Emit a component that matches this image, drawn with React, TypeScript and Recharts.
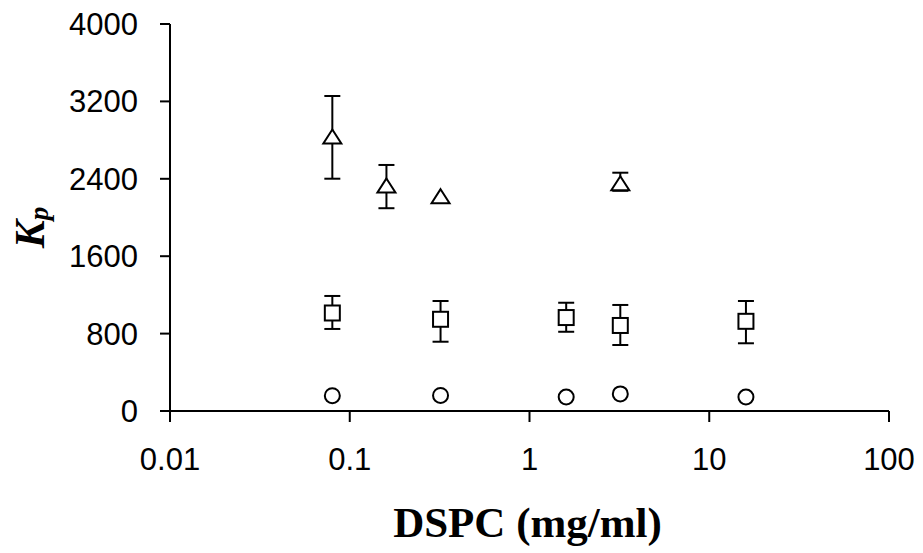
import {
  ScatterChart,
  Scatter,
  XAxis,
  YAxis,
  ErrorBar
} from "recharts";

// DSPC concentration (mg/ml) for each series
const triX = [0.08, 0.16, 0.32, 3.2];
const triY = [2832, 2326, 2215, 2348];
const triErr = [[431, 424], [230, 217], null, [72, 115]];

const sqX = [0.08, 0.32, 1.6, 3.2, 16];
const sqY = [1013, 948, 966, 884, 927];
const sqErr = [[165, 176], [232, 189], [147, 153], [202, 212], [227, 210]];

const circX = [0.08, 0.32, 1.6, 3.2, 16];
const circY = [158, 161, 145, 177, 145];

const xTicks = [0.01, 0.1, 1, 10, 100];
const yTicks = [0, 800, 1600, 2400, 3200, 4000];

const toRows = (xs: number[], ys: number[], errs?: (number[] | null)[]) =>
  xs.map((x, i) => ({ x, y: ys[i], err: errs ? errs[i] : null }));

const triData = toRows(triX, triY, triErr);
const sqData = toRows(sqX, sqY, sqErr);
const circData = toRows(circX, circY);

const tickFont = { fontFamily: "'Liberation Sans', Arial, sans-serif", fontSize: 31, fill: "#000" };

const Triangle = (p: any) => (
  <path
    d={`M${p.cx},${p.cy - 7.5} L${p.cx + 9},${p.cy + 6.5} L${p.cx - 9},${p.cy + 6.5} Z`}
    fill="#fff"
    stroke="#000"
    strokeWidth={2}
  />
);

const Square = (p: any) => (
  <rect x={p.cx - 7.5} y={p.cy - 7.5} width={15} height={15} fill="#fff" stroke="#000" strokeWidth={2} />
);

const Circle = (p: any) => (
  <circle cx={p.cx} cy={p.cy} r={7.5} fill="#fff" stroke="#000" strokeWidth={2} />
);

const KpLabel = (props: any) => {
  const vb = props.viewBox || { y: 24, height: 387 };
  const cx = 44;
  const cy = vb.y + vb.height / 2 + 10;
  return (
    <text
      transform={`rotate(-90 ${cx} ${cy})`}
      x={cx}
      y={cy}
      textAnchor="middle"
      fontFamily="'Liberation Serif', 'Times New Roman', serif"
      fontWeight="bold"
      fontStyle="italic"
      fill="#000"
    >
      <tspan fontSize={42}>K</tspan>
      <tspan fontSize={27} dy={4}>p</tspan>
    </text>
  );
};

function App() {
  return (
    <div style={{ position: "absolute", left: 0, top: 0, background: "#fff" }}>
      <ScatterChart width={923} height={553} margin={{ top: 24, right: 34, bottom: 0, left: 0 }}>
        <XAxis
          type="number"
          dataKey="x"
          scale="log"
          domain={[0.01, 100]}
          ticks={xTicks}
          allowDataOverflow
          tickFormatter={(v: number) => String(v)}
          height={142}
          tickSize={11}
          tickMargin={26}
          axisLine={{ stroke: "#000", strokeWidth: 2 }}
          tickLine={{ stroke: "#000", strokeWidth: 2 }}
          tick={tickFont}
          label={{
            value: "DSPC (mg/ml)",
            position: "insideBottom",
            offset: 16,
            dx: -2,
            style: {
              fontFamily: "'Liberation Serif', 'Times New Roman', serif",
              fontWeight: "bold",
              fontSize: 43,
              fill: "#000"
            }
          }}
        />
        <YAxis
          type="number"
          dataKey="y"
          domain={[0, 4000]}
          ticks={yTicks}
          width={170}
          tickSize={10}
          tickMargin={22}
          axisLine={{ stroke: "#000", strokeWidth: 2 }}
          tickLine={{ stroke: "#000", strokeWidth: 2 }}
          tick={tickFont}
          label={<KpLabel />}
        />
        <Scatter data={triData} shape={Triangle} isAnimationActive={false}>
          <ErrorBar dataKey="err" direction="y" width={8} stroke="#000" strokeWidth={2} isAnimationActive={false} />
        </Scatter>
        <Scatter data={sqData} shape={Square} isAnimationActive={false}>
          <ErrorBar dataKey="err" direction="y" width={8} stroke="#000" strokeWidth={2} isAnimationActive={false} />
        </Scatter>
        <Scatter data={circData} shape={Circle} isAnimationActive={false} />
      </ScatterChart>
    </div>
  );
}

export default App;
